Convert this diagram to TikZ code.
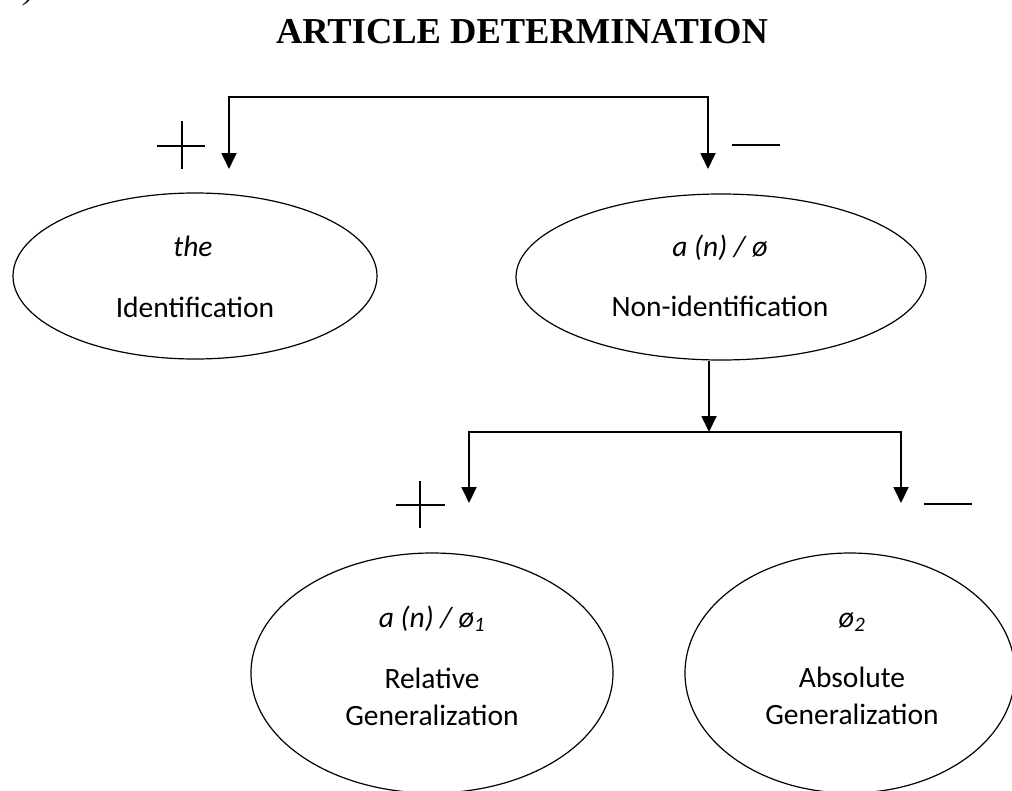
\documentclass[tikz,border=0pt]{standalone}
\usepackage{fontspec}
\setmainfont{Carlito}
\newfontfamily\titlefont{Liberation Serif}
\usetikzlibrary{arrows.meta,shapes.geometric}
\begin{document}
\begin{tikzpicture}[x=1pt,y=-1pt,
  oval/.style={ellipse,draw,line width=1.2pt,inner sep=0pt},
  lbl/.style={font=\fontsize{29.5}{34}\selectfont,inner sep=0pt,anchor=base},
  flow/.style={line width=1.8pt,-{Triangle[width=15pt,length=16pt]}},
  branch/.style={line width=1.8pt,line cap=rect},
  sign/.style={line width=1.3pt}]
\useasboundingbox (0,0) rectangle (1012,790);

% heading
\node[font=\titlefont\bfseries\fontsize{36.5}{42}\selectfont,anchor=base,inner sep=0pt]
  (title) at (522,43) {ARTICLE DETERMINATION};
\node[font=\titlefont\itshape\fontsize{30}{34}\selectfont,anchor=south,inner sep=0pt]
  (paren) at (29,6) {)};

% the four categories
\node[oval,minimum width=364pt,minimum height=166pt] (ident) at (195,276) {};
\node[oval,minimum width=410pt,minimum height=166pt] (nonid) at (721,277) {};
\node[oval,minimum width=362pt,minimum height=240pt] (relgen) at (432,673) {};
\node[oval,minimum width=330pt,minimum height=240pt] (absgen) at (850,673) {};

\node[lbl] (identart) at (193,256) {\itshape the};
\node[lbl] (identname) at (195,317) {Identification};
\node[lbl] (nonidart) at (720,256) {\itshape a (n) / ø};
\node[lbl] (nonidname) at (720,316) {Non-identification};
\node[lbl] (relart) at (432,627) {\itshape a (n) / ø\textsubscript{1}};
\node[lbl] (relname1) at (432,688) {Relative};
\node[lbl] (relname2) at (432,725) {Generalization};
\node[lbl] (absart) at (852,627) {\itshape ø\textsubscript{2}};
\node[lbl] (absname1) at (852,687) {Absolute};
\node[lbl] (absname2) at (852,724) {Generalization};

% branching points and arrow ends
\coordinate (tl) at (229,97);
\coordinate (tr) at (708,97);
\coordinate (identin) at (229,169);
\coordinate (nonidin) at (708,169);
\coordinate (split) at (709,432);
\coordinate (bl) at (469,432);
\coordinate (br) at (901,432);
\coordinate (relin) at (469,503);
\coordinate (absin) at (901,503);

% first split
\draw[branch] (tl) -- (tr);
\draw[flow] (tl) -- (identin);
\draw[flow] (tr) -- (nonidin);

% second split
\draw[flow] (nonid.south -| split) -- (split);
\draw[branch] (bl) -- (br);
\draw[flow] (bl) -- (relin);
\draw[flow] (br) -- (absin);

% plus and minus marks
\draw[sign] (157,146) -- (205,146) (182,121) -- (182,169);
\draw[sign] (732,145) -- (780,145);
\draw[sign] (396,505) -- (445,505) (420,481) -- (420,528);
\draw[sign] (924,504) -- (972,504);
\end{tikzpicture}
\end{document}
